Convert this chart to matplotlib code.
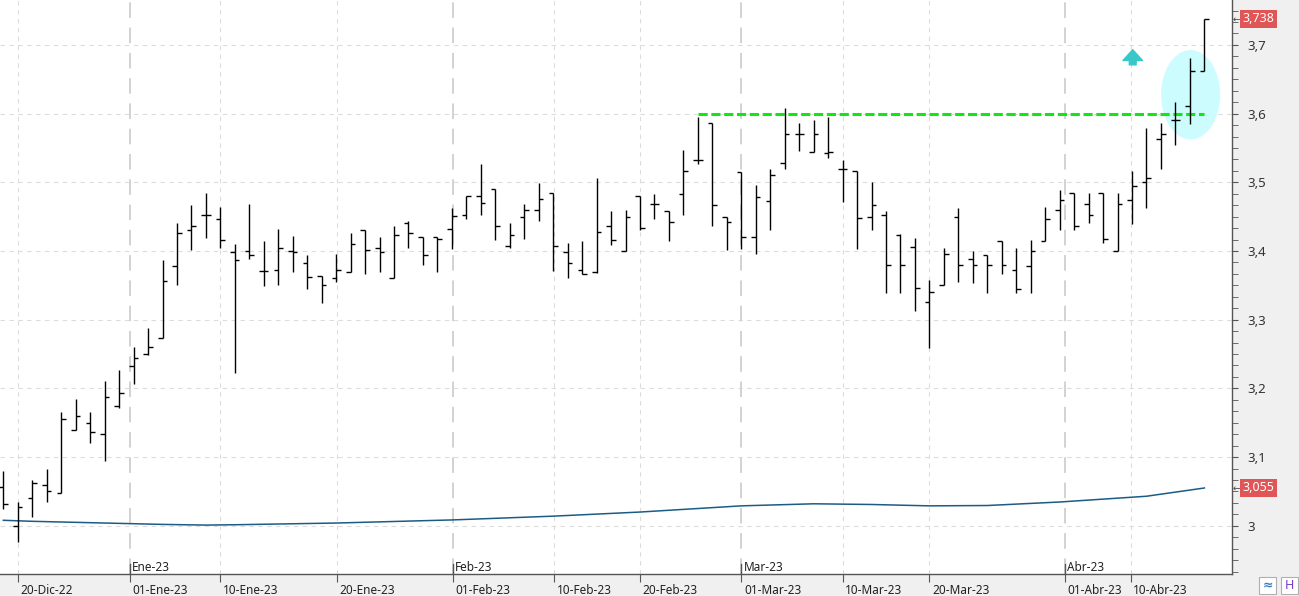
import numpy as np
import matplotlib
matplotlib.use("Agg")
import matplotlib.pyplot as plt
import matplotlib.transforms as mtransforms
from matplotlib.patches import Ellipse, Rectangle
from matplotlib.ticker import FixedLocator, FuncFormatter, MultipleLocator

plt.rcParams["font.family"] = ["Noto Sans", "DejaVu Sans"]

# daily OHLC bars, 19-Dic-22 .. 18-Abr-23 (one per trading session)
OPEN = [3.056, 2.999, 3.040, 3.059, 3.047, 3.139, 3.149, 3.134, 3.174, 3.232,
        3.250, 3.274, 3.378, 3.430, 3.452, 3.446, 3.399, 3.400, 3.371, 3.373,
        3.400, 3.382, 3.363, 3.360, 3.370, 3.430, 3.405, 3.361, 3.441, 3.420,
        3.420, 3.432, 3.452, 3.480, 3.490, 3.408, 3.450, 3.459, 3.484, 3.398,
        3.372, 3.370, 3.436, 3.400, 3.480, 3.469, 3.458, 3.483, 3.532, 3.587,
        3.450, 3.515, 3.420, 3.473, 3.528, 3.571, 3.544, 3.543, 3.520, 3.516,
        3.450, 3.452, 3.424, 3.406, 3.326, 3.350, 3.450, 3.389, 3.394, 3.414,
        3.373, 3.378, 3.415, 3.459, 3.485, 3.468, 3.485, 3.400, 3.474, 3.500,
        3.563, 3.591, 3.611, 3.662]
HIGH = [3.080, 3.034, 3.067, 3.083, 3.165, 3.185, 3.165, 3.211, 3.227, 3.260,
        3.288, 3.387, 3.441, 3.467, 3.484, 3.464, 3.410, 3.468, 3.415, 3.432,
        3.422, 3.394, 3.364, 3.396, 3.426, 3.430, 3.420, 3.437, 3.444, 3.421,
        3.420, 3.463, 3.480, 3.527, 3.490, 3.441, 3.468, 3.499, 3.484, 3.411,
        3.414, 3.507, 3.458, 3.459, 3.480, 3.483, 3.458, 3.547, 3.595, 3.587,
        3.450, 3.515, 3.496, 3.520, 3.608, 3.587, 3.590, 3.595, 3.533, 3.516,
        3.500, 3.458, 3.425, 3.419, 3.358, 3.404, 3.463, 3.400, 3.394, 3.414,
        3.404, 3.416, 3.464, 3.489, 3.485, 3.485, 3.485, 3.485, 3.516, 3.579,
        3.586, 3.617, 3.681, 3.738]
LOW = [3.024, 2.977, 3.013, 3.035, 3.047, 3.139, 3.120, 3.095, 3.171, 3.206,
       3.249, 3.274, 3.351, 3.401, 3.419, 3.405, 3.222, 3.388, 3.349, 3.351,
       3.370, 3.345, 3.325, 3.355, 3.370, 3.366, 3.370, 3.361, 3.405, 3.379,
       3.370, 3.403, 3.446, 3.453, 3.416, 3.405, 3.418, 3.443, 3.371, 3.360,
       3.367, 3.368, 3.409, 3.400, 3.430, 3.447, 3.415, 3.453, 3.526, 3.437,
       3.402, 3.403, 3.395, 3.430, 3.520, 3.546, 3.544, 3.536, 3.472, 3.403,
       3.430, 3.339, 3.339, 3.313, 3.259, 3.350, 3.355, 3.354, 3.339, 3.366,
       3.339, 3.339, 3.415, 3.430, 3.430, 3.441, 3.411, 3.400, 3.440, 3.463,
       3.519, 3.555, 3.585, 3.662]
CLOSE = [3.031, 3.027, 3.062, 3.051, 3.155, 3.160, 3.136, 3.187, 3.194, 3.244,
         3.260, 3.356, 3.426, 3.437, 3.452, 3.416, 3.387, 3.394, 3.371, 3.405,
         3.398, 3.362, 3.350, 3.373, 3.410, 3.402, 3.398, 3.424, 3.426, 3.394,
         3.418, 3.451, 3.480, 3.470, 3.436, 3.424, 3.459, 3.475, 3.408, 3.382,
         3.367, 3.427, 3.416, 3.450, 3.434, 3.469, 3.442, 3.516, 3.533, 3.467,
         3.442, 3.420, 3.478, 3.510, 3.571, 3.571, 3.571, 3.544, 3.520, 3.448,
         3.467, 3.380, 3.380, 3.346, 3.340, 3.395, 3.380, 3.380, 3.380, 3.380,
         3.344, 3.400, 3.446, 3.474, 3.436, 3.452, 3.418, 3.468, 3.494, 3.507,
         3.571, 3.591, 3.662, 3.738]

# long moving average, read at a few sessions
MA_IDX = [0, 2, 5, 8, 11, 14, 16, 23, 31, 38, 44, 51, 56, 60, 64, 68, 73, 79, 83]
MA_VAL = [3.008, 3.0065, 3.005, 3.0035, 3.002, 3.001, 3.0015, 3.004, 3.0085, 3.014,
          3.020, 3.029, 3.032, 3.031, 3.029, 3.0295, 3.0346, 3.043, 3.055]

DAY_POS = [1, 8.75, 15, 23.05, 31.05, 38.05, 44, 51.0, 58, 64, 73.35, 77.9]
DAY_LABELS = ["20-Dic-22", "01-Ene-23", "10-Ene-23", "20-Ene-23", "01-Feb-23",
              "10-Feb-23", "20-Feb-23", "01-Mar-23", "10-Mar-23", "20-Mar-23",
              "01-Abr-23", "10-Abr-23"]
MONTH_POS = [8.75, 31.05, 51.0, 73.35]
MONTH_LABELS = ["Ene-23", "Feb-23", "Mar-23", "Abr-23"]

RESIST = 3.60
RESIST_FROM, RESIST_TO = 48, 83
LAST, MA_LAST = 3.738, 3.055

W, H = 1299, 596
fig = plt.figure(figsize=(W / 100, H / 100), dpi=100, facecolor="#f0f0f0")
ax = fig.add_axes([0, 22 / H, 1232 / W, 574 / H])
ax.set_facecolor("white")

x = np.arange(len(OPEN))
ax.set_xlim(-0.23, 84.91)
ax.set_ylim(2.9298, 3.7654)

# grid
for v in np.arange(3.0, 3.75, 0.1):
    ax.axhline(v, color="#dcdcdc", lw=0.8, ls=(0, (4, 4)), zorder=0)
for p in DAY_POS:
    if p not in MONTH_POS:
        ax.axvline(p, color="#dcdcdc", lw=0.8, ls=(0, (4, 4)), zorder=0)
for p in MONTH_POS:
    ax.axvline(p, color="#d2d2d2", lw=1.4, ls=(0, (8, 5)), zorder=0)

# highlight + resistance
ax.add_patch(Ellipse((82.05, 3.6275), 4.08, 0.130, fc="#ccfcfd", ec="none", zorder=1))
ax.plot([RESIST_FROM, RESIST_TO], [RESIST, RESIST], color="#14e614", lw=2.2,
        ls=(0, (3, 1.2)), zorder=2)
ax.annotate("", xy=(78.05, 3.693), xytext=(78.05, 3.671),
            arrowprops=dict(arrowstyle="simple,head_length=0.55,head_width=1.0,tail_width=0.35",
                            color="#38c8c8", shrinkA=0, shrinkB=0, mutation_scale=14),
            zorder=4)

# moving average
ax.plot(MA_IDX, MA_VAL, color="#1b5c85", lw=1.1, zorder=2)

# OHLC bars
tw = 0.32
ax.vlines(x, LOW, HIGH, color="black", lw=1.0, zorder=3)
ax.hlines(OPEN, x - tw, x, color="black", lw=1.0, zorder=3)
ax.hlines(CLOSE, x, x + tw, color="black", lw=1.0, zorder=3)

# spines
for s in ("top", "left"):
    ax.spines[s].set_visible(False)
for s in ("right", "bottom"):
    ax.spines[s].set_color("#555555")
    ax.spines[s].set_linewidth(1.0)

# right price axis
ax.yaxis.tick_right()
ax.yaxis.set_major_locator(FixedLocator(np.round(np.arange(3.0, 3.75, 0.1), 1)))
ax.yaxis.set_minor_locator(MultipleLocator(0.1 / 6))
ax.yaxis.set_major_formatter(FuncFormatter(
    lambda v, _: ("%.1f" % v).rstrip("0").rstrip(".").replace(".", ",")))
ax.tick_params(axis="y", which="both", direction="out", length=4, color="#555555",
               labelsize=9.5, labelcolor="#333333", pad=7)

# bottom date axis
ax.set_xticks(DAY_POS)
ax.set_xticklabels(DAY_LABELS, ha="left")
ax.tick_params(axis="x", direction="out", length=6, color="#555555",
               labelsize=8.5, labelcolor="#222222", pad=1)
off = mtransforms.ScaledTranslation(2 / 72, 0, fig.dpi_scale_trans)
for lab in ax.get_xticklabels():
    lab.set_transform(lab.get_transform() + off)

blend = mtransforms.blended_transform_factory(ax.transData, ax.transAxes)
for p, lab in zip(MONTH_POS, MONTH_LABELS):
    ax.plot([p, p], [0, 0.018], color="#555555", lw=1.0, transform=blend, clip_on=False)
    ax.text(p + 0.15, 0.012, lab, transform=blend, ha="left", va="center",
            fontsize=8.5, color="#222222")

# last-value tags
blend_y = mtransforms.blended_transform_factory(ax.transAxes, ax.transData)
for v in (LAST, MA_LAST):
    ax.text(1.0085, v, ("%.3f" % v).replace(".", ","), transform=blend_y, ha="left",
            va="center", fontsize=9, color="white", clip_on=False,
            bbox=dict(boxstyle="square,pad=0.18", fc="#e05555", ec="none"))
    ax.text(1.0003, v, "\u2190", transform=blend_y, ha="left", va="center",
            fontsize=6.5, color="#444444", clip_on=False)

# toolbar icons bottom right
for x0, txt, col in ((1259, "\u2248", "#3a7fc0"), (1281, "H", "#7a3fc8")):
    fig.patches.append(Rectangle((x0 / W, 2 / H), 17 / W, 17 / H, transform=fig.transFigure,
                                 fc="white", ec="#b0b0b0", lw=0.8))
    fig.text((x0 + 8.5) / W, 10.5 / H, txt, ha="center", va="center", fontsize=9,
             color=col, fontweight="bold")

fig.savefig("out.png", dpi=100, facecolor=fig.get_facecolor())
